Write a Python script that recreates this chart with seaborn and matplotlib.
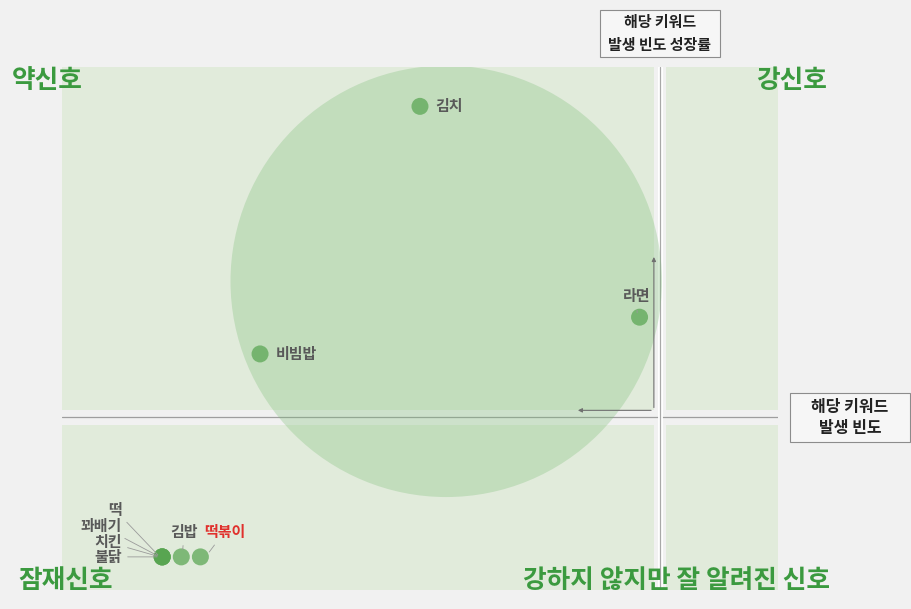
import numpy as np
import pandas as pd
import matplotlib
matplotlib.use("Agg")
import matplotlib.pyplot as plt
import seaborn as sns

# --- data ---
keywords = ['김치', '비빔밥', '라면', '떡', '꽈배기', '치킨', '불닭', '김밥', '떡볶이']
freq = [1.50, 0.83, 2.42, 0.42, 0.42, 0.42, 0.42, 0.50, 0.58]      # 해당 키워드 발생 빈도
growth = [3.55, 0.72, 1.14, -1.6, -1.6, -1.6, -1.6, -1.6, -1.6]    # 발생 빈도 성장률

bubble_freq = [1.61]
bubble_growth = [1.55]

x_lim = (0, 3)
y_lim = (-1.98, 4.0)
x_axis_at = 2.5
y_axis_at = 0.0

quad_labels = ['약신호', '강신호', '잠재신호', '강하지 않지만 잘 알려진 신호']

df = pd.DataFrame({'keyword': keywords, 'freq': freq, 'growth': growth})
bubble_df = pd.DataFrame({'freq': bubble_freq, 'growth': bubble_growth})

sns.set_theme(style='white')
plt.rcParams['font.family'] = ['Noto Sans CJK KR', 'DejaVu Sans']

BG = '#f1f1f1'
PANEL = '#e1ebdb'
GREEN_TXT = '#3b9a3f'
LABEL = '#595959'

fig = plt.figure(figsize=(9.11, 6.09), dpi=100, facecolor=BG)
ax = fig.add_axes([0.068, 0.031, 0.786, 0.859])
ax.set_facecolor(BG)
ax.set_xlim(*x_lim)
ax.set_ylim(*y_lim)

# quadrant panels with a small gap around the axes
for (x0, x1) in [(x_lim[0], x_axis_at - 0.02), (x_axis_at + 0.03, x_lim[1])]:
    for (y0, y1) in [(y_lim[0] + 0.0, y_axis_at - 0.09), (y_axis_at + 0.08, y_lim[1])]:
        ax.add_patch(plt.Rectangle((x0, y0), x1 - x0, y1 - y0, color=PANEL, lw=0, zorder=0))

# axis lines
ax.axhline(y_axis_at, color='#9e9e9e', lw=0.9, zorder=1)
ax.axvline(x_axis_at + 0.005, color='#ffffff', lw=3.5, zorder=1)
ax.axvline(x_axis_at + 0.005, color='#a8a8a8', lw=0.9, zorder=1)

# big background bubble
sns.scatterplot(data=bubble_df, x='freq', y='growth', s=96500, color='#7dbe78',
                alpha=0.31, edgecolor='none', ax=ax, zorder=2, legend=False)

# arrows near origin
arr = dict(arrowstyle='-|>', color='#707070', lw=0.8, mutation_scale=6)
ax.annotate('', xy=(x_axis_at - 0.02, 1.86), xytext=(x_axis_at - 0.02, 0.075),
            arrowprops=arr, zorder=3)
ax.annotate('', xy=(2.15, 0.075), xytext=(x_axis_at - 0.02, 0.075),
            arrowprops=arr, zorder=3)

# keyword points
sns.scatterplot(data=df, x='freq', y='growth', s=150, color='#58a551', alpha=0.72,
                edgecolor='none', ax=ax, zorder=4, legend=False)

# point labels
lab_kw = dict(fontsize=10.8, fontweight='bold', color=LABEL, zorder=5)
lead = dict(arrowstyle='-', color='#9a9a9a', lw=0.6)
ax.text(freq[0] + 0.065, growth[0], keywords[0], ha='left', va='center', **lab_kw)
ax.text(freq[1] + 0.065, growth[1], keywords[1], ha='left', va='center', **lab_kw)
ax.annotate(keywords[2], xy=(freq[2] - 0.01, growth[2] + 0.05),
            xytext=(freq[2] + 0.045, growth[2] + 0.24), ha='right', va='center',
            arrowprops=lead, **lab_kw)

# stacked labels on the overlapping points
stack_y = [-1.06, -1.245, -1.43, -1.6]
for k, ty in zip(keywords[3:7], stack_y):
    ax.annotate(k, xy=(freq[3] - 0.01, growth[3]), xytext=(0.25, ty),
                ha='right', va='center', arrowprops=lead, **lab_kw)
ax.annotate(keywords[7], xy=(freq[7] + 0.005, growth[7] + 0.05), xytext=(0.57, growth[7] + 0.29),
            ha='right', va='center', arrowprops=lead, **lab_kw)
ax.annotate(keywords[8], xy=(freq[8] + 0.03, growth[8] + 0.03), xytext=(0.595, growth[8] + 0.29),
            ha='left', va='center', fontsize=10.8, fontweight='bold', color='#e0302c', zorder=5,
            arrowprops=lead)

ax.set_xticks([])
ax.set_yticks([])
ax.set_xlabel('')
ax.set_ylabel('')
for s in ax.spines.values():
    s.set_visible(False)

# quadrant titles (figure coords)
qk = dict(fontsize=18.5, fontweight='bold', color=GREEN_TXT)
fig.text(12 / 911, 1 - 81 / 609, quad_labels[0], ha='left', va='center', **qk)
fig.text(827 / 911, 1 - 81 / 609, quad_labels[1], ha='right', va='center', **qk)
fig.text(18 / 911, 1 - 580 / 609, quad_labels[2], ha='left', va='center', **qk)
fig.text(830 / 911, 1 - 580 / 609, quad_labels[3], ha='right', va='center', **qk)

# axis title boxes
for (bx0, by0, bx1, by1) in [(600, 10, 720, 57), (790, 393, 910, 442)]:
    fig.patches.append(plt.Rectangle((bx0 / 911, 1 - by1 / 609), (bx1 - bx0) / 911,
                                     (by1 - by0) / 609, transform=fig.transFigure,
                                     fc='#f6f6f6', ec='#8c8c8c', lw=0.8))
fig.text(660 / 911, 1 - 33.5 / 609, '해당 키워드\n발생 빈도 성장률', ha='center', va='center',
         fontsize=10.8, fontweight='bold', color='#222222', linespacing=1.5)
fig.text(850 / 911, 1 - 417.5 / 609, '해당 키워드\n발생 빈도', ha='center', va='center',
         fontsize=11.5, fontweight='bold', color='#222222', linespacing=1.45)

fig.savefig('out.png', dpi=100, facecolor=BG)
